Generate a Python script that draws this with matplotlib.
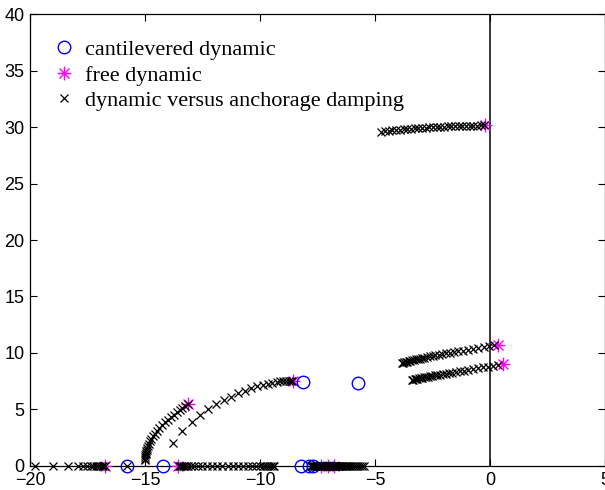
import matplotlib.pyplot as plt
from matplotlib.path import Path

# cantilevered dynamic poles (blue circles)
cant_re = [-15.8, -14.2, -8.22, -7.88, -7.7, -8.12, -5.75]
cant_im = [0.0, 0.0, 0.0, 0.0, 0.0, 7.46, 7.35]

# free dynamic poles (magenta asterisks)
free_re = [-16.74, -13.55, -7.35, -7.05, -6.8, -13.12, -8.55, -0.22, 0.36, 0.55]
free_im = [0.0, 0.0, 0.0, 0.0, 0.0, 5.49, 7.55, 30.15, 10.7, 9.0]

# locus versus anchorage damping (black x)
# real axis, left of -16.7
loc1_re = [-19.78, -18.99, -18.33, -17.9, -17.68, -17.51, -17.36, -17.25, -17.13,
           -17.03, -16.94, -16.87, -16.81, -16.76]
loc1_im = [0.0] * len(loc1_re)
# real axis, -13.5 to -9.4 plus one inside the circle
loc2_re = [-15.8, -13.52, -13.47, -13.42, -13.36, -13.29, -13.21, -13.12, -13.0,
           -12.86, -12.7, -12.52, -12.32, -12.1, -11.87, -11.64, -11.4, -11.17,
           -10.94, -10.72, -10.52, -10.34, -10.17, -10.02, -9.89, -9.78, -9.68,
           -9.6, -9.52, -9.45, -9.39]
loc2_im = [0.0] * len(loc2_re)
# real axis, -7.8 to -5.4
loc3_re = [-7.8, -7.76, -7.72, -7.68, -7.64, -7.6, -7.56, -7.52, -7.48, -7.44,
           -7.4, -7.36, -7.32, -7.28, -7.24, -7.2, -7.16, -7.12, -7.08, -7.04,
           -7.0, -6.96, -6.92, -6.88, -6.84, -6.8, -6.76, -6.72, -6.68, -6.64,
           -6.6, -6.56, -6.52, -6.47, -6.42, -6.37, -6.32, -6.26, -6.2, -6.14,
           -6.07, -6.0, -5.92, -5.84, -5.75, -5.66, -5.56, -5.46]
loc3_im = [0.0] * len(loc3_re)
# dense curved branch from -15 up to the free pole at (-13.1, 5.5)
loc4_re = [-15.0, -15.0, -14.99, -14.98, -14.97, -14.96, -14.94, -14.92, -14.9,
           -14.87, -14.83, -14.78, -14.72, -14.65, -14.57, -14.48, -14.38,
           -14.27, -14.15, -14.02, -13.89, -13.76, -13.63, -13.5, -13.37,
           -13.24, -13.12]
loc4_im = [0.5, 0.65, 0.8, 0.93, 1.05, 1.17, 1.3, 1.45, 1.6, 1.78, 1.97, 2.17,
           2.4, 2.63, 2.87, 3.12, 3.37, 3.62, 3.86, 4.1, 4.33, 4.55, 4.76, 4.96,
           5.15, 5.33, 5.49]
# sparse branch from (-13.8, 2) to the free pole at (-8.55, 7.55)
loc5_re = [-13.77, -13.38, -12.97, -12.6, -12.25, -11.9, -11.57, -11.25, -10.95,
           -10.66, -10.38, -10.12, -9.88, -9.66, -9.46, -9.28, -9.12, -8.98,
           -8.86, -8.76, -8.67, -8.6]
loc5_im = [2.0, 3.13, 3.92, 4.55, 5.02, 5.45, 5.82, 6.14, 6.42, 6.67, 6.88,
           7.05, 7.19, 7.3, 7.38, 7.44, 7.48, 7.51, 7.53, 7.54, 7.55, 7.55]
# branch near 30
loc6_re = [-4.72, -4.56, -4.4, -4.24, -4.08, -3.92, -3.76, -3.6, -3.44, -3.28,
           -3.12, -2.96, -2.8, -2.64, -2.48, -2.32, -2.16, -2.0, -1.84, -1.68,
           -1.52, -1.36, -1.2, -1.04, -0.88, -0.72, -0.56, -0.4, -0.26]
loc6_im = [29.58, 29.62, 29.66, 29.7, 29.73, 29.77, 29.8, 29.83, 29.86, 29.89,
           29.91, 29.93, 29.95, 29.97, 29.99, 30.01, 30.03, 30.04, 30.06, 30.07,
           30.08, 30.09, 30.1, 30.11, 30.12, 30.13, 30.13, 30.14, 30.15]
# upper branch near 10
loc7_re = [-3.84, -3.78, -3.72, -3.66, -3.6, -3.53, -3.46, -3.39, -3.31, -3.23,
           -3.14, -3.05, -2.95, -2.85, -2.74, -2.62, -2.5, -2.37, -2.23, -2.08,
           -1.92, -1.75, -1.57, -1.38, -1.18, -0.97, -0.75, -0.52, -0.28, -0.04,
           0.18]
loc7_im = [9.1, 9.14, 9.17, 9.2, 9.24, 9.28, 9.31, 9.35, 9.39, 9.43, 9.47,
           9.51, 9.55, 9.59, 9.64, 9.69, 9.74, 9.79, 9.84, 9.9, 9.96, 10.02,
           10.08, 10.15, 10.22, 10.29, 10.36, 10.43, 10.51, 10.6, 10.68]
# lower branch near 8.5
loc8_re = [-3.4, -3.34, -3.28, -3.22, -3.16, -3.09, -3.02, -2.95, -2.87, -2.79,
           -2.7, -2.61, -2.51, -2.41, -2.3, -2.18, -2.06, -1.93, -1.79, -1.64,
           -1.48, -1.31, -1.13, -0.94, -0.74, -0.53, -0.31, -0.08, 0.15, 0.36]
loc8_im = [7.6, 7.63, 7.66, 7.69, 7.72, 7.75, 7.78, 7.81, 7.84, 7.87, 7.9,
           7.94, 7.97, 8.01, 8.05, 8.09, 8.13, 8.18, 8.22, 8.27, 8.32, 8.38,
           8.44, 8.5, 8.57, 8.64, 8.72, 8.8, 8.88, 8.95]

# 8-armed asterisk like MATLAB '*'
d = 0.72
star = Path([(-1, 0), (1, 0), (0, -1), (0, 1), (-d, -d), (d, d), (-d, d), (d, -d)],
            [Path.MOVETO, Path.LINETO] * 4)

plt.figure(figsize=(6.05, 4.9), dpi=100)
ax = plt.axes([0.0496, 0.049, 0.9504, 0.9224])

ax.axvline(0, color='black', linewidth=1.1, zorder=1)

ax.plot(cant_re, cant_im, 'o', color='blue', markerfacecolor='none',
        markersize=9, markeredgewidth=1.0, clip_on=False, zorder=4,
        label='cantilevered dynamic')
ax.plot(free_re, free_im, linestyle='none', marker=star, color='magenta',
        markersize=10, markeredgewidth=1.0, clip_on=False, zorder=3,
        label='free dynamic')
xs = [loc1_re, loc2_re, loc3_re, loc4_re, loc5_re, loc6_re, loc7_re, loc8_re]
ys = [loc1_im, loc2_im, loc3_im, loc4_im, loc5_im, loc6_im, loc7_im, loc8_im]
for i in range(len(xs)):
    ax.plot(xs[i], ys[i], 'x', color='black', markersize=6, markeredgewidth=0.9,
            clip_on=False, zorder=5,
            label='dynamic versus anchorage damping' if i == 0 else None)

ax.set_xlim(-20, 5)
ax.set_ylim(0, 40)
ax.set_xticks([-20, -15, -10, -5, 0, 5])
ax.set_yticks([0, 5, 10, 15, 20, 25, 30, 35, 40])
ax.tick_params(direction='in', top=True, right=True, length=5, width=0.8,
               labelsize=13, pad=4)
for lab in ax.get_xticklabels() + ax.get_yticklabels():
    lab.set_family('Liberation Sans')
for sp in ax.spines.values():
    sp.set_linewidth(0.9)

leg = ax.legend(loc='upper left', frameon=False, handlelength=1.0,
                handletextpad=0.45, labelspacing=0.22, borderaxespad=0.3,
                bbox_to_anchor=(0.012, 0.978),
                prop={'family': 'Liberation Serif', 'size': 16})

plt.savefig('out.png', dpi=100)
